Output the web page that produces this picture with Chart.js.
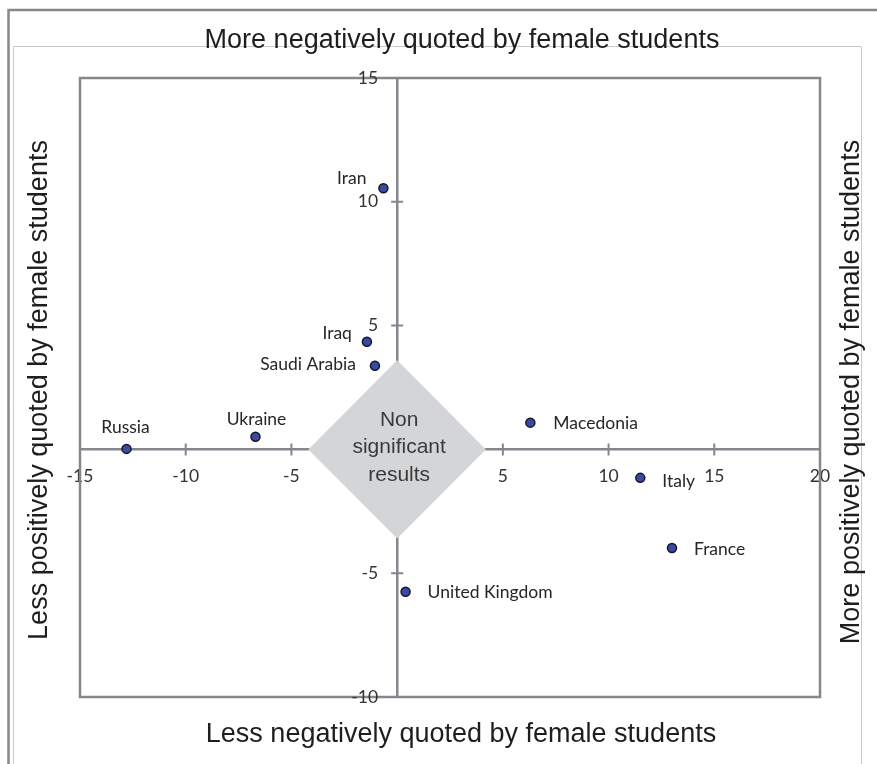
<!DOCTYPE html>
<html>
<head>
<meta charset="utf-8">
<script src="https://cdn.jsdelivr.net/npm/chart.js@4.4.0/dist/chart.umd.min.js"></script>
<style>
  html,body{margin:0;padding:0;background:#fff;}
  #wrap{width:877px;height:764px;position:relative;}
</style>
</head>
<body>
<div id="wrap"><canvas id="chart"></canvas></div>
<script>
/* ---------- data ---------- */
const countries = ['Iran','Iraq','Saudi Arabia','Russia','Ukraine','Macedonia','Italy','France','United Kingdom'];
const xValues   = [-0.65, -1.43, -1.05, -12.8, -6.7, 6.3, 11.5, 13.0, 0.4];
const yValues   = [10.55, 4.35, 3.38, 0.02, 0.51, 1.08, -1.15, -3.98, -5.75];

const xTicks = [-15, -10, -5, 5, 10, 15, 20];
const yTicks = [-10, -5, 5, 10, 15];

// non significant zone around the origin
const zoneX = [-4.2, 0, 4.2, 0, -4.2];
const zoneY = [0, 3.6, 0, -3.6, 0];
const zoneText = ['Non', 'significant', 'results'];

const titleTop    = 'More negatively quoted by female students';
const titleBottom = 'Less negatively quoted by female students';
const titleLeft   = 'Less positively quoted by female students';
const titleRight  = 'More positively quoted by female students';

/* ---------- label placement (style only) ---------- */
// [textAlign, dx, dy] relative to the point
const labelPlace = [
  ['right', -17, -10],
  ['right', -15, -8],
  ['right', -19, -1],
  ['center', -1, -22],
  ['center', 1, -17],
  ['left', 23, 1],
  ['left', 22, 3],
  ['left', 22, 1],
  ['left', 22, 1],
];

const AXIS_GREY = '#85878d';
const LABEL_FONT = '17.5px Lato';

const decorPlugin = {
  id: 'decor',
  beforeDraw(chart) {
    const {ctx} = chart;
    ctx.save();
    ctx.fillStyle = '#fff';
    ctx.fillRect(0, 0, chart.width, chart.height);
    // outer frame
    ctx.strokeStyle = AXIS_GREY; ctx.lineWidth = 2.5;
    ctx.beginPath(); ctx.moveTo(8.5, 764); ctx.lineTo(8.5, 10); ctx.lineTo(877, 10); ctx.stroke();
    // inner frame
    ctx.strokeStyle = '#c9c9c9'; ctx.lineWidth = 1;
    ctx.beginPath(); ctx.moveTo(13.5, 764); ctx.lineTo(13.5, 46.5); ctx.lineTo(861.5, 46.5); ctx.lineTo(861.5, 764); ctx.stroke();
    // titles
    ctx.fillStyle = '#1e1e1e';
    ctx.font = '27px "Liberation Sans", Arial';
    ctx.textAlign = 'center'; ctx.textBaseline = 'middle';
    ctx.fillText(titleTop, 462, 41);
    ctx.fillText(titleBottom, 461, 735);
    ctx.save(); ctx.translate(40, 390); ctx.rotate(-Math.PI / 2); ctx.fillText(titleLeft, 0, 0); ctx.restore();
    ctx.save(); ctx.translate(852, 392); ctx.rotate(-Math.PI / 2); ctx.fillText(titleRight, 0, 0); ctx.restore();
    ctx.restore();
  },
  beforeDatasetsDraw(chart) {
    const {ctx, chartArea: a, scales: {x, y}} = chart;
    ctx.save();
    ctx.strokeStyle = AXIS_GREY; ctx.lineWidth = 2.5;
    ctx.strokeRect(a.left, a.top, a.right - a.left, a.bottom - a.top);
    const x0 = x.getPixelForValue(0), y0 = y.getPixelForValue(0);
    ctx.lineWidth = 2;
    ctx.beginPath();
    xTicks.forEach(v => { const px = x.getPixelForValue(v); ctx.moveTo(px, y0 - 6); ctx.lineTo(px, y0 + 6); });
    yTicks.forEach(v => { const py = y.getPixelForValue(v); ctx.moveTo(x0 - 6, py); ctx.lineTo(x0 + 6, py); });
    ctx.stroke();
    // y tick labels
    ctx.fillStyle = '#333'; ctx.font = LABEL_FONT;
    ctx.textAlign = 'right'; ctx.textBaseline = 'middle';
    yTicks.forEach(v => ctx.fillText(String(v), x0 - 19, y.getPixelForValue(v)));
    ctx.restore();
  },
  afterDatasetsDraw(chart) {
    const {ctx, scales: {x, y}} = chart;
    ctx.save();
    // zone text
    ctx.fillStyle = '#3a3a3a';
    ctx.font = '21px "Liberation Sans", Arial';
    ctx.textAlign = 'center'; ctx.textBaseline = 'middle';
    const cx = x.getPixelForValue(0) + 2, cy = y.getPixelForValue(0) - 2;
    zoneText.forEach((t, i) => ctx.fillText(t, cx, cy + (i - 1) * 27.5));
    // point labels
    ctx.fillStyle = '#262626'; ctx.font = LABEL_FONT;
    const meta = chart.getDatasetMeta(1);
    meta.data.forEach((pt, i) => {
      const [al, dx, dy] = labelPlace[i];
      ctx.textAlign = al;
      ctx.fillText(countries[i], pt.x + dx, pt.y + dy);
    });
    ctx.restore();
  }
};

new Chart(document.getElementById('chart'), {
  type: 'scatter',
  data: {
    datasets: [
      {
        type: 'line',
        label: 'zone',
        data: zoneX.map((v, i) => ({x: v, y: zoneY[i]})),
        backgroundColor: '#d4d5d7',
        borderWidth: 0,
        pointRadius: 0,
        fill: 'shape',
        tension: 0,
        order: 2,
      },
      {
        label: 'countries',
        data: xValues.map((v, i) => ({x: v, y: yValues[i]})),
        backgroundColor: '#3a4aa0',
        borderColor: '#15152a',
        borderWidth: 1.5,
        pointRadius: 4.5,
        order: 1,
      }
    ]
  },
  options: {
    responsive: true,
    maintainAspectRatio: false,
    animation: false,
    layout: {padding: {left: 80, top: 78, right: 57, bottom: 67}},
    plugins: {legend: {display: false}, tooltip: {enabled: false}},
    scales: {
      x: {
        type: 'linear', min: -15, max: 20,
        position: {y: 0},
        afterFit: s => { s.height = 0; },
        grid: {drawOnChartArea: false, drawTicks: false},
        border: {color: AXIS_GREY, width: 2.5},
        ticks: {
          stepSize: 5, padding: 16, color: '#333', font: {family: 'Lato', size: 17.5},
          maxRotation: 0, autoSkip: false,
          callback: v => xTicks.includes(v) ? String(v) : ''
        }
      },
      y: {
        type: 'linear', min: -10, max: 15,
        position: {x: 0},
        afterFit: s => { s.width = 0; },
        grid: {drawOnChartArea: false, drawTicks: false},
        border: {color: AXIS_GREY, width: 2.5},
        ticks: {stepSize: 5, display: false}
      }
    }
  },
  plugins: [decorPlugin]
});
</script>
</body>
</html>
